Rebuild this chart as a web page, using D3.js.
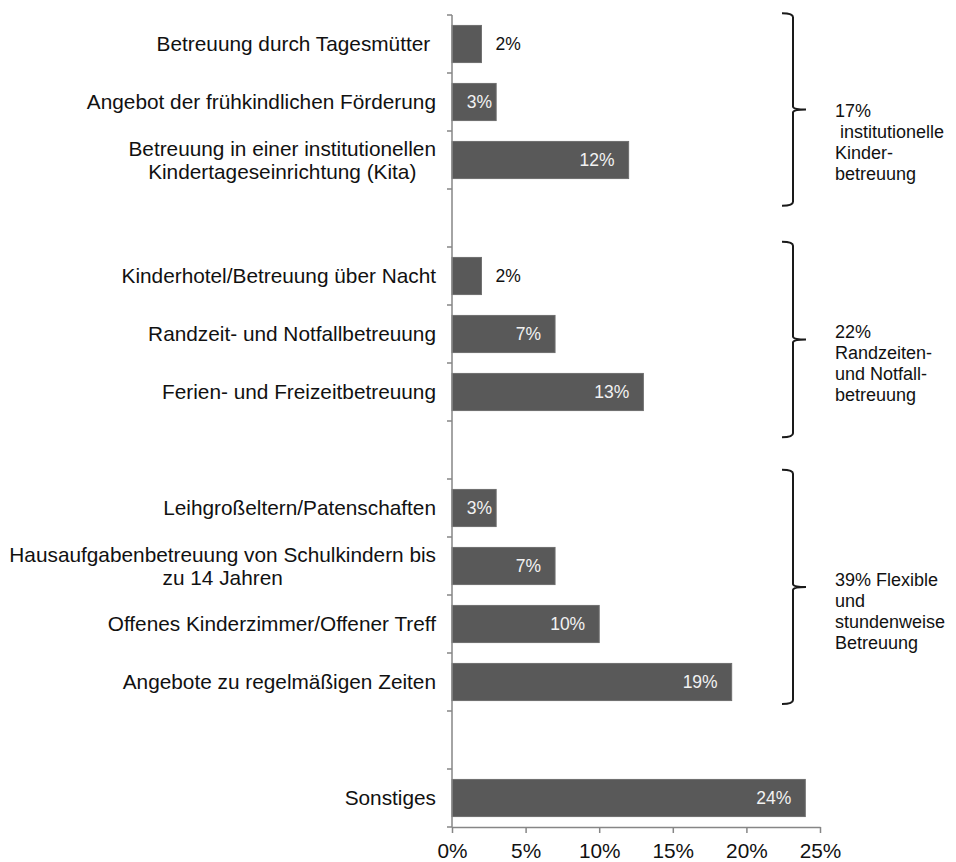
<!DOCTYPE html>
<html>
<head>
<meta charset="utf-8">
<script src="https://cdn.jsdelivr.net/npm/d3@7"></script>
<style>
  body { margin: 0; background: #fff; }
  svg { display: block; font-family: "Liberation Sans", Arial, sans-serif; }
</style>
</head>
<body>
<svg id="chart" width="956" height="862"></svg>
<script>
// slots from top to bottom, empty strings are the gaps between groups
var labels = [
  "Betreuung durch Tagesmütter ",
  "Angebot der frühkindlichen Förderung",
  "Betreuung in einer institutionellen\nKindertageseinrichtung (Kita)",
  "",
  "Kinderhotel/Betreuung über Nacht",
  "Randzeit- und Notfallbetreuung",
  "Ferien- und Freizeitbetreuung",
  "",
  "Leihgroßeltern/Patenschaften",
  "Hausaufgabenbetreuung von Schulkindern bis\nzu 14 Jahren",
  "Offenes Kinderzimmer/Offener Treff",
  "Angebote zu regelmäßigen Zeiten",
  "",
  "Sonstiges"
];
var values = [2, 3, 12, null, 2, 7, 13, null, 3, 7, 10, 19, null, 24];
var xTicks = [0, 5, 10, 15, 20, 25];

// brackets on the right, in slot units
var groupText = [
  ["17%", " institutionelle", "Kinder-", "betreuung"],
  ["22%", "Randzeiten-", "und Notfall-", "betreuung"],
  ["39% Flexible", "und", "stundenweise", "Betreuung"]
];
var groupFrom = [-0.03, 3.91, 7.84];
var groupTo = [3.29, 7.28, 11.88];
var groupTextAt = [1.64, 5.45, 9.74];

var svg = d3.select("#chart");
var plotTop = 15, plotBottom = 827, plotLeft = 452;

var x = d3.scaleLinear().domain([0, 25]).range([plotLeft, 820]);
var y = d3.scaleBand().domain(d3.range(labels.length)).range([plotTop, plotBottom]).paddingInner(0.36).paddingOuter(0.18);
var ySlot = d3.scaleLinear().domain([0, labels.length]).range([plotTop, plotBottom]);

// bars
var rows = values.map(function(v, i) { return {i: i, v: v}; }).filter(function(d) { return d.v !== null; });
svg.append("g").selectAll("rect")
  .data(rows)
  .join("rect")
  .attr("x", x(0))
  .attr("y", function(d) { return y(d.i); })
  .attr("width", function(d) { return x(d.v) - x(0); })
  .attr("height", y.bandwidth())
  .attr("fill", "#595959")
  .attr("stroke", "#6e6e6e")
  .attr("stroke-width", 1);

// value labels
svg.append("g").selectAll("text")
  .data(rows)
  .join("text")
  .attr("x", function(d) {
    if (d.v <= 2) return x(d.v) + 14;
    return Math.max(x(d.v) - 14, x(0) + 40);
  })
  .attr("y", function(d) { return y(d.i) + y.bandwidth() / 2; })
  .attr("dy", "0.36em")
  .attr("text-anchor", function(d) { return d.v <= 2 ? "start" : "end"; })
  .attr("font-size", 17.5)
  .attr("fill", function(d) { return d.v <= 2 ? "#111" : "#f2f2f2"; })
  .text(function(d) { return d.v + "%"; });

// y axis: line and ticks at slot boundaries
var yAxis = svg.append("g").attr("stroke", "#868686").attr("stroke-width", 1.5);
yAxis.append("line").attr("x1", plotLeft).attr("x2", plotLeft).attr("y1", plotTop).attr("y2", plotBottom);
yAxis.selectAll("line.tick")
  .data(d3.range(labels.length + 1))
  .join("line")
  .attr("class", "tick")
  .attr("x1", plotLeft - 5).attr("x2", plotLeft)
  .attr("y1", function(d) { return ySlot(d); })
  .attr("y2", function(d) { return ySlot(d); });

// x axis
var xAxis = d3.axisBottom(x)
  .tickValues(xTicks)
  .tickSize(6)
  .tickSizeOuter(0)
  .tickFormat(function(d) { return d + "%"; });
var gx = svg.append("g")
  .attr("transform", "translate(0," + plotBottom + ")")
  .call(xAxis);
gx.select(".domain").attr("stroke", "#868686").attr("stroke-width", 1.5);
gx.selectAll(".tick line").attr("stroke", "#868686").attr("stroke-width", 1.5);
gx.selectAll(".tick text")
  .attr("font-family", "Liberation Sans, Arial, sans-serif")
  .attr("font-size", 20.8)
  .attr("fill", "#111")
  .attr("y", 16);

// category labels, multi-line ones centred on each other
var catG = svg.append("g").attr("font-size", 20.8).attr("fill", "#111");
labels.forEach(function(lab, i) {
  if (!lab) return;
  var lines = lab.split("\n");
  var cy = y(i) + y.bandwidth() / 2;
  var t = catG.append("text").attr("xml:space", "preserve").style("white-space", "pre");
  var spans = lines.map(function(line, k) {
    return t.append("tspan")
      .attr("y", cy + (k - (lines.length - 1) / 2) * 23)
      .attr("dy", "0.36em")
      .text(line);
  });
  if (lines.length === 1) {
    t.attr("text-anchor", "end");
    spans[0].attr("x", 436);
  } else {
    var w = d3.max(spans, function(s) { return s.node().getComputedTextLength(); });
    t.attr("text-anchor", "middle");
    spans.forEach(function(s) { s.attr("x", 436 - w / 2); });
  }
});

// brackets with group text
var bx = 793;
groupText.forEach(function(lines, g) {
  var y0 = ySlot(groupFrom[g]), y1 = ySlot(groupTo[g]), ym = (y0 + y1) / 2;
  var p = d3.path();
  p.moveTo(bx - 11, y0);
  p.quadraticCurveTo(bx, y0, bx, y0 + 4);
  p.lineTo(bx, ym - 3);
  p.quadraticCurveTo(bx, ym, bx + 13, ym);
  p.quadraticCurveTo(bx, ym, bx, ym + 3);
  p.lineTo(bx, y1 - 4);
  p.quadraticCurveTo(bx, y1, bx - 11, y1);
  svg.append("path")
    .attr("d", p.toString())
    .attr("fill", "none")
    .attr("stroke", "#1a1a1a")
    .attr("stroke-width", 2);

  var t = svg.append("text")
    .attr("font-size", 18)
    .attr("fill", "#111")
    .attr("xml:space", "preserve")
    .style("white-space", "pre");
  lines.forEach(function(line, k) {
    t.append("tspan")
      .attr("x", 835)
      .attr("y", ySlot(groupTextAt[g]) + k * 21)
      .attr("dy", "0.36em")
      .text(line);
  });
});
</script>
</body>
</html>
